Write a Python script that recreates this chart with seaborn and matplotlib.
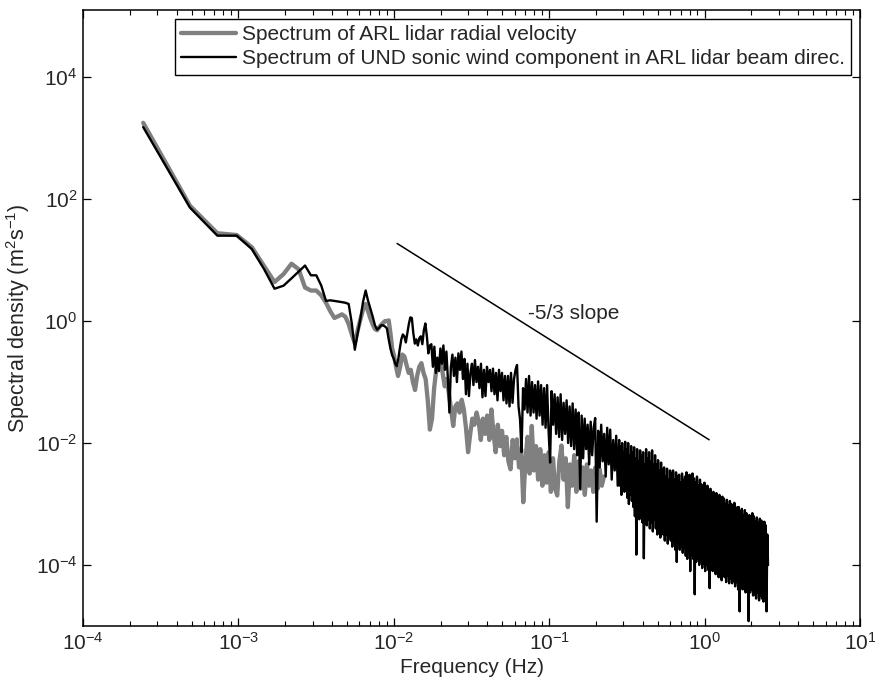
import numpy as np
import pandas as pd
import matplotlib
matplotlib.use("Agg")
import matplotlib.pyplot as plt
import seaborn as sns
from matplotlib.ticker import NullLocator

# ---- data (log10 of spectral density) ----
df_bin = 2.44e-4  # frequency resolution (Hz), lowest bins are single FFT bins

# lowest 40 bins, one value per bin
lidar_low = [3.25, 1.89, 1.44, 1.41, 1.21, 0.90, 0.64, 0.77, 0.94, 0.85,
             0.55, 0.50, 0.50, 0.42, 0.30, 0.16, 0.05, 0.08, 0.11, 0.07,
             -0.05, -0.22, -0.36, -0.15, 0.03, 0.19, 0.28, 0.16, 0.04, -0.06,
             -0.13, -0.15, -0.10, -0.06, -0.03, 0.00, 0.00, 0.01, -0.20, -0.45]
sonic_low = [3.18, 1.86, 1.40, 1.40, 1.18, 0.85, 0.53, 0.58, 0.70, 0.81,
             0.91, 0.75, 0.75, 0.58, 0.33, 0.34, 0.33, 0.32, 0.31, 0.30,
             0.28, -0.04, -0.47, -0.20, 0.04, 0.32, 0.50, 0.33, 0.20, 0.07,
             -0.07, -0.14, -0.11, -0.07, -0.07, -0.09, -0.12, -0.30, -0.45, -0.56]

# higher frequencies, sampled evenly in log f
lidar_hi_range = (0.0100, 0.225)
lidar_hi = [-0.55, -0.74, -0.90, -0.75, -0.55, -0.58, -0.72, -0.85, -0.80, -1.00,
            -1.13, -0.90, -0.75, -0.69, -0.85, -0.95, -1.30, -1.78, -1.60, -1.10,
            -0.80, -0.70, -0.64, -0.85, -1.07, -0.95, -1.20, -1.45, -1.72, -1.40,
            -1.35, -1.50, -1.29, -1.45, -1.75, -2.15, -1.85, -1.60, -1.70, -1.50,
            -1.65, -1.95, -1.60, -1.85, -1.55, -1.95, -1.45, -1.85, -2.15, -1.70,
            -2.05, -1.80, -2.20, -1.90, -2.30, -2.43, -1.95, -2.25, -1.94, -2.40,
            -2.10, -2.97, -2.30, -1.90, -2.50, -1.72, -2.45, -2.05, -2.60, -2.10,
            -2.70, -2.20, -2.65, -2.15, -2.80, -2.25, -2.75, -2.86, -2.30, -2.04,
            -2.60, -2.25, -3.05, -2.35, -2.70, -2.20, -2.80, -2.30, -2.75, -2.40,
            -2.85, -2.35, -2.70, -2.45, -2.80, -2.40, -2.75, -2.43, -2.70, -2.55]

sonic_mid_range = (0.0100, 0.276)
sonic_mid = [
    # 0.010 - 0.017 Hz
    -0.62, -0.70, -0.74, -0.62, -0.45, -0.30, -0.22, -0.25, -0.35, -0.20, -0.05, 0.06, 0.05,
    -0.20, -0.37, -0.30, -0.40, -0.28, -0.25, -0.38, -0.15, -0.04, -0.25, -0.53, -0.40,
    # 0.017 - 0.029 Hz
    -0.38, -0.75, -0.42, -0.85, -0.60, -0.82, -0.45, -0.70, -0.40, -0.80, -0.50, -0.95, -1.50,
    -0.75, -0.55, -0.90, -0.60, -1.00, -0.53, -0.80, -0.50, -0.95, -0.62, -1.20, -0.70,
    # 0.030 - 0.050 Hz
    -1.23, -0.85, -0.70, -1.05, -0.64, -1.00, -0.75, -1.10, -0.70, -1.25, -0.80, -1.23, -0.75,
    -1.00, -0.80, -1.15, -0.78, -1.20, -0.85, -1.30, -0.80, -1.15, -0.85, -1.30, -0.90,
    # 0.052 - 0.089 Hz
    -1.35, -0.90, -1.40, -0.85, -1.34, -0.95, -0.80, -0.72, -1.40, -1.61, -2.15, -1.10, -1.45,
    -0.95, -1.50, -0.90, -1.55, -1.00, -1.50, -1.05, -1.60, -0.99, -1.55, -1.05, -1.70,
    # 0.091 - 0.155 Hz
    -1.10, -1.75, -1.05, -1.80, -2.32, -1.15, -1.70, -1.20, -1.85, -1.25, -1.90, -1.20, -1.95,
    -1.34, -1.85, -1.30, -2.00, -1.40, -2.05, -1.35, -2.10, -1.45, -2.20, -1.50, -2.75,
    # 0.16 - 0.276 Hz
    -1.55, -2.25, -1.60, -2.10, -1.70, -2.35, -1.65, -2.20, -1.75, -1.59, -3.29, -1.80, -2.40,
    -1.70, -2.30, -1.85, -2.55, -1.75, -2.35, -1.78, -2.60, -1.95, -2.45, -1.88, -2.70,
]

sonic_top_range = (0.282, 2.56)
sonic_top = [
    -1.95, -2.70, -2.05, -2.85, -2.00, -2.60, -2.15, -2.80, -1.98, -2.75,
    -2.10, -2.90, -2.00, -3.00, -2.20, -2.85, -2.05, -2.95, -2.15, -3.05,
    -2.07, -3.20, -2.25, -3.83, -2.10, -3.10, -2.30, -3.25, -2.12, -3.15,
    -2.20, -3.30, -2.15, -3.89, -2.35, -3.20, -2.10, -3.35, -2.25, -3.25,
    -2.15, -3.40, -2.30, -3.30, -2.12, -3.45, -2.35, -3.25, -2.20, -3.40,
    -2.35, -3.50, -2.28, -3.40, -2.45, -3.55, -2.32, -3.45, -2.43, -3.50,
    -2.40, -3.60, -2.55, -3.50, -2.42, -3.65, -2.60, -3.55, -2.45, -3.60,
    -2.50, -3.70, -2.45, -3.60, -2.60, -3.75, -2.48, -3.95, -2.55, -3.65,
    -2.52, -3.75, -2.65, -3.70, -2.50, -3.80, -2.62, -3.72, -2.55, -3.85,
    -2.48, -3.90, -2.60, -3.80, -2.52, -4.10, -2.65, -3.85, -2.50, -3.90,
    -2.58, -4.48, -2.65, -3.95, -2.55, -3.90, -2.70, -4.00, -2.60, -3.95,
    -2.68, -4.05, -2.75, -3.98, -2.65, -4.10, -2.80, -4.00, -2.70, -4.08,
    -2.78, -4.38, -2.75, -4.05, -2.88, -4.10, -2.80, -4.02, -2.85, -4.15,
    -2.82, -4.12, -2.95, -4.20, -2.85, -4.10, -2.92, -4.25, -2.88, -4.15,
    -2.91, -4.20, -3.00, -4.28, -2.93, -4.18, -3.02, -4.30, -2.95, -4.22,
    -3.00, -4.30, -3.08, -4.25, -2.98, -4.35, -3.10, -4.28, -3.05, -4.40,
    -3.05, -4.76, -3.12, -4.35, -3.08, -4.40, -3.18, -4.32, -3.10, -4.45,
    -3.15, -4.42, -3.22, -4.92, -3.18, -4.45, -3.25, -4.40, -3.15, -4.50,
    -3.20, -4.48, -3.28, -4.55, -3.22, -4.45, -3.30, -4.58, -3.24, -4.50,
    -3.27, -4.55, -3.32, -4.60, -3.29, -4.52, -3.35, -4.76, -3.50, -4.00,
]

slope_freq = [0.0105, 1.07]
slope_psd = [18.7, 0.0113]

labels = ["Spectrum of ARL lidar radial velocity",
          "Spectrum of UND sonic wind component in ARL lidar beam direc."]


def build(low, parts):
    freqs = [df_bin * np.arange(1, len(low) + 1)]
    vals = list(low)
    for rng, v in parts:
        freqs.append(np.geomspace(rng[0], rng[1], len(v)))
        vals += v
    return pd.DataFrame({"freq": np.concatenate(freqs),
                         "psd": 10.0 ** np.array(vals)})


lidar = build(lidar_low, [(lidar_hi_range, lidar_hi)])
sonic = build(sonic_low, [(sonic_mid_range, sonic_mid), (sonic_top_range, sonic_top)])

# ---- style ----
sns.set_theme(style="ticks")
plt.rcParams["font.family"] = ["Liberation Sans", "DejaVu Sans"]
plt.rcParams["mathtext.fontset"] = "custom"
plt.rcParams["mathtext.rm"] = "Liberation Sans"
plt.rcParams["mathtext.it"] = "Liberation Sans:italic"
plt.rcParams["axes.unicode_minus"] = False
plt.rcParams["path.simplify"] = False

fig = plt.figure(figsize=(8.75, 6.87), dpi=100)
ax = fig.add_axes([83 / 875, 61 / 687, 777 / 875, 616 / 687])
ax.set(xscale="log", yscale="log")

sns.lineplot(data=lidar, x="freq", y="psd", color="#808080", linewidth=3.1,
             estimator=None, sort=False, label=labels[0], ax=ax)
sns.lineplot(data=sonic, x="freq", y="psd", color="black", linewidth=1.7,
             estimator=None, sort=False, label=labels[1], ax=ax)
ax.plot(slope_freq, slope_psd, color="black", linewidth=1.1)
ax.text(0.0734, 1.32, "-5/3 slope", fontsize=15, ha="left", va="center")

ax.set_xlim(1e-4, 1e1)
ax.set_ylim(1e-5, 10 ** 5.1)
ax.set_yticks([1e-4, 1e-2, 1e0, 1e2, 1e4])
ax.yaxis.set_minor_locator(NullLocator())
ax.set_xlabel("Frequency (Hz)", fontsize=15, labelpad=3)
ax.set_ylabel("Spectral density (m$^2$s$^{-1}$)", fontsize=15.5)
ax.yaxis.set_label_coords(-0.066, 0.5)

ax.tick_params(which="both", direction="in", top=True, right=True,
               labelsize=15, color="black")
ax.tick_params(which="major", length=6, width=0.9)
ax.tick_params(axis="y", pad=4)
ax.tick_params(axis="x", pad=4)
ax.tick_params(which="minor", length=3.5, width=0.8)
for s in ax.spines.values():
    s.set_linewidth(1.1)
    s.set_color("black")

leg = ax.legend(loc="upper right", fontsize=15, frameon=True, fancybox=False,
                edgecolor="black", framealpha=1, borderaxespad=0.43,
                handlelength=2.6, handletextpad=0.3, labelspacing=0.25,
                borderpad=0.3)
leg.get_frame().set_linewidth(1.0)

fig.savefig("out.png", dpi=100)
